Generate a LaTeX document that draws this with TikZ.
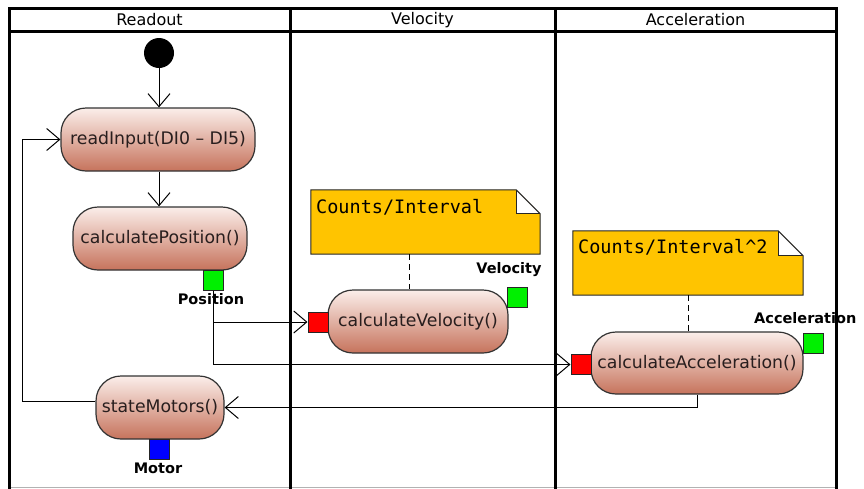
\documentclass[tikz,border=0pt]{standalone}
\usepackage{fontspec}
\setmainfont{DejaVu Sans}
\newfontfamily\notemono{DejaVu Sans Mono}
\usetikzlibrary{arrows.meta}
\definecolor{notefill}{RGB}{255,196,0}
\definecolor{acttop}{RGB}{251,238,234}
\definecolor{actbot}{RGB}{198,115,92}
\definecolor{pingreen}{RGB}{0,240,0}
\definecolor{pinred}{RGB}{255,0,0}
\definecolor{pinblue}{RGB}{0,0,255}
\definecolor{acttext}{RGB}{40,30,30}
\begin{document}
\begin{tikzpicture}[x=1pt,y=-1pt,
  lane/.style={line width=3pt, line cap=rect},
  lanetitle/.style={font=\fontsize{16}{19}\selectfont, inner sep=0pt},
  action/.style={rectangle, rounded corners=25pt, draw=black!80, line width=1.2pt,
    top color=acttop, bottom color=actbot, inner sep=0pt, text=acttext,
    font=\fontsize{17.3}{20}\selectfont},
  pinbox/.style={rectangle, draw=black!85, line width=1pt, minimum size=20pt, inner sep=0pt},
  pinlabel/.style={font=\bfseries\fontsize{14.5}{17}\selectfont, inner sep=0pt},
  flow/.style={line width=1pt, -{Straight Barb[length=13pt,width=22pt,line width=1pt]}},
  notebox/.style={rectangle, inner sep=0pt},
  notetext/.style={font=\notemono\fontsize{18.5}{22}\selectfont, inner sep=0pt, anchor=base west},
  anchorline/.style={line width=1pt, dash pattern=on 6pt off 4pt}
]
\useasboundingbox (0,0) rectangle (864,488);

% swimlane frame
\draw[gray!60, line width=1pt] (9,487) -- (836,487);
\draw[lane] (9,8) -- (836,8);
\draw[lane] (9,31) -- (836,31);
\draw[lane] (9,8) -- (9,488);
\draw[lane] (290,8) -- (290,488);
\draw[lane] (555,8) -- (555,488);
\draw[lane] (836,8) -- (836,488);
\node[lanetitle] (t1) at (149.5,20) {Readout};
\node[lanetitle] (t2) at (422.5,20) {Velocity};
\node[lanetitle] (t3) at (695.5,20) {Acceleration};

% initial node
\node[circle, fill=black, minimum size=30pt, inner sep=0pt] (init) at (159,53) {};

% actions
\node[action, minimum width=194pt, minimum height=63pt] (ri) at (158,139.5) {readInput(DI0 – DI5)};
\node[action, minimum width=174pt, minimum height=63pt] (cp) at (160,238.5) {calculatePosition()};
\node[action, minimum width=180pt, minimum height=63pt] (cv) at (418,321.5) {calculateVelocity()};
\node[action, minimum width=212pt, minimum height=62pt] (ca) at (697,363) {calculateAcceleration()};
\node[action, minimum width=128pt, minimum height=63pt] (sm) at (160,407.5) {stateMotors()};

% pins
\node[pinbox, fill=pingreen] (pp) at (213,280) {};
\node[pinlabel] (ppl) at (211,299) {Position};
\node[pinbox, fill=pinred] (vin) at (318,322) {};
\node[pinbox, fill=pingreen] (vout) at (517,297) {};
\node[pinlabel] (voutl) at (509,270) {Velocity};
\node[pinbox, fill=pinred] (ain) at (581,364.5) {};
\node[pinbox, fill=pingreen] (aout) at (813,343) {};
\node[pinlabel, anchor=west] (aoutl) at (754,318) {Acceleration};
\node[pinbox, fill=pinblue] (mp) at (159,449) {};
\node[pinlabel] (mpl) at (158,468) {Motor};

% notes
\node[notebox, minimum width=229pt, minimum height=64pt] (nv) at (425.5,222) {};
\fill[notefill] (nv.north west) -- ([xshift=-24pt]nv.north east) -- ([yshift=-24pt]nv.north east)
  -- (nv.south east) -- (nv.south west) -- cycle;
\filldraw[fill=white, draw=black!85, line width=1pt] ([xshift=-24pt]nv.north east) -- ([xshift=-24pt,yshift=-24pt]nv.north east) -- ([yshift=-24pt]nv.north east);
\draw[black!85, line width=1pt] (nv.north west) -- ([xshift=-24pt]nv.north east) -- ([yshift=-24pt]nv.north east)
  -- (nv.south east) -- (nv.south west) -- cycle;
\node[notetext] (nvt) at (316,213) {Counts/Interval};

\node[notebox, minimum width=230pt, minimum height=64pt] (na) at (688,263) {};
\fill[notefill] (na.north west) -- ([xshift=-25pt]na.north east) -- ([yshift=-25pt]na.north east)
  -- (na.south east) -- (na.south west) -- cycle;
\filldraw[fill=white, draw=black!85, line width=1pt] ([xshift=-25pt]na.north east) -- ([xshift=-25pt,yshift=-25pt]na.north east) -- ([yshift=-25pt]na.north east);
\draw[black!85, line width=1pt] (na.north west) -- ([xshift=-25pt]na.north east) -- ([yshift=-25pt]na.north east)
  -- (na.south east) -- (na.south west) -- cycle;
\node[notetext] (nat) at (578,253) {Counts/Interval\string^2};

\draw[anchorline] ([xshift=-9pt]cv.north |- nv.south) -- ([xshift=-9pt]cv.north);
\draw[anchorline] ([xshift=-9pt]ca.north |- na.south) -- ([xshift=-9pt]ca.north);

% control / object flows
\draw[flow] (init) -- (ri.north -| init);
\draw[flow] (ri.south -| init) -- (cp.north -| init);
\draw[flow] (pp.south) |- (ain.west);
\draw[flow] (pp.south |- vin.west) -- (vin.west);
\draw[flow] (ca.south) |- (sm.east);
\draw[flow] ([yshift=6pt]sm.west) -| ([xshift=-38pt]ri.west) -- (ri.west);
\end{tikzpicture}
\end{document}
